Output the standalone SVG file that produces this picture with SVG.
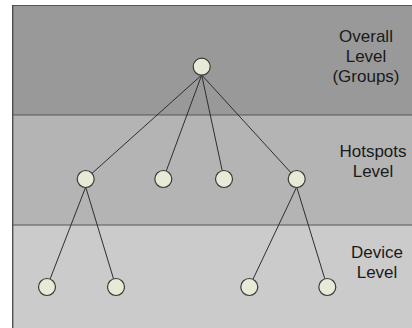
<svg xmlns="http://www.w3.org/2000/svg" width="412" height="328" viewBox="0 0 412 328">
  <style>
    .band-line { stroke: #5a5454; stroke-width: 1.2; }
    .edge { stroke: #2e2e2e; stroke-width: 1; fill: none; }
    .node { fill: #e6ead6; stroke: #3a3a36; stroke-width: 1.2; }
    .label { font-family: "Liberation Sans", Arial, sans-serif; font-size: 17px; fill: #1a1a1a; text-anchor: middle; }
  </style>

  <rect x="0" y="0" width="412" height="328" fill="#ffffff"/>

  <!-- level bands -->
  <g id="bands">
    <rect x="13" y="5" width="399" height="110" fill="#999999"/>
    <rect x="13" y="115" width="399" height="110" fill="#b4b4b4"/>
    <rect x="13" y="225" width="399" height="103" fill="#cbcbcb"/>
    <line class="band-line" x1="13" y1="5.5" x2="412" y2="5.5"/>
    <line class="band-line" x1="13" y1="115" x2="412" y2="115"/>
    <line class="band-line" x1="13" y1="225" x2="412" y2="225"/>
    <line x1="12.7" y1="5" x2="12.7" y2="328" stroke="#444848" stroke-width="1.3"/>
  </g>

  <!-- level labels -->
  <g id="label-overall">
    <text class="label" x="366" y="42">Overall</text>
    <text class="label" x="366" y="62">Level</text>
    <text class="label" x="366" y="82">(Groups)</text>
  </g>
  <g id="label-hotspots">
    <text class="label" x="373" y="157">Hotspots</text>
    <text class="label" x="373" y="177">Level</text>
  </g>
  <g id="label-device">
    <text class="label" x="377" y="258">Device</text>
    <text class="label" x="377" y="278">Level</text>
  </g>

  <!-- connectors -->
  <g id="edges">
    <line class="edge" x1="201.7" y1="75" x2="85.7" y2="179"/>
    <line class="edge" x1="201.7" y1="75" x2="163.3" y2="179"/>
    <line class="edge" x1="201.7" y1="75" x2="224" y2="179"/>
    <line class="edge" x1="201.7" y1="75" x2="296.7" y2="179"/>
    <line class="edge" x1="85.7" y1="187" x2="47" y2="287"/>
    <line class="edge" x1="85.7" y1="187" x2="116" y2="287"/>
    <line class="edge" x1="296.7" y1="187" x2="249.3" y2="287"/>
    <line class="edge" x1="296.7" y1="187" x2="327.3" y2="287"/>
  </g>

  <!-- nodes -->
  <g id="root"><circle class="node" cx="201.7" cy="66.7" r="8.5"/></g>
  <g id="hotspot-1"><circle class="node" cx="85.7" cy="179" r="8.5"/></g>
  <g id="hotspot-2"><circle class="node" cx="163.3" cy="179" r="8.5"/></g>
  <g id="hotspot-3"><circle class="node" cx="224" cy="179" r="8.5"/></g>
  <g id="hotspot-4"><circle class="node" cx="296.7" cy="179" r="8.5"/></g>
  <g id="device-1"><circle class="node" cx="47" cy="287" r="8.5"/></g>
  <g id="device-2"><circle class="node" cx="116" cy="287" r="8.5"/></g>
  <g id="device-3"><circle class="node" cx="249.3" cy="287" r="8.5"/></g>
  <g id="device-4"><circle class="node" cx="327.3" cy="287" r="8.5"/></g>
</svg>
